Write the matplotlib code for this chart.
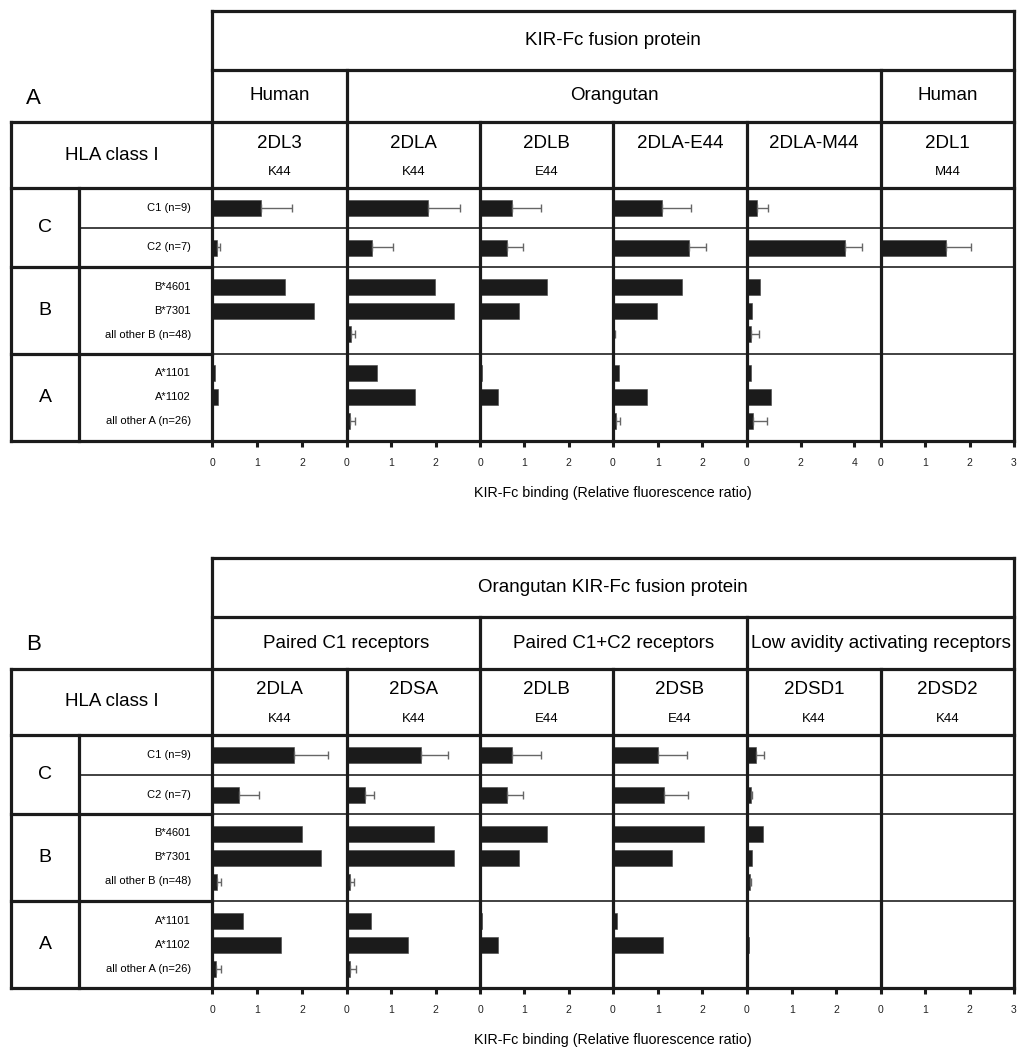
import matplotlib
matplotlib.use("Agg")
import matplotlib.pyplot as plt
import numpy as np

plt.rcParams['font.family'] = ['Liberation Sans', 'DejaVu Sans']

# ---------------- data ----------------
hla_groups = ["C", "B", "A"]
row_labels = ["C1 (n=9)", "C2 (n=7)", "B*4601", "B*7301", "all other B (n=48)",
              "A*1101", "A*1102", "all other A (n=26)"]
xlabel = "KIR-Fc binding (Relative fluorescence ratio)"

# Panel A
a_title = "KIR-Fc fusion protein"
a_species = ["Human", "Orangutan", "Human"]
a_species_span = [1, 4, 1]
a_receptors = ["2DL3", "2DLA", "2DLB", "2DLA-E44", "2DLA-M44", "2DL1"]
a_residues = ["K44", "K44", "E44", "", "", "M44"]
a_xmax = [3, 3, 3, 3, 5, 3]
a_ticks = [[0, 1, 2], [0, 1, 2], [0, 1, 2], [0, 1, 2], [0, 2, 4], [0, 1, 2, 3]]
a_2DL3 = [1.08, 0.11, 1.63, 2.26, 0.02, 0.07, 0.13, 0.01]
a_2DL3_err = [0.70, 0.06, 0, 0, 0, 0, 0, 0]
a_2DLA = [1.83, 0.57, 1.99, 2.41, 0.08, 0.67, 1.53, 0.07]
a_2DLA_err = [0.72, 0.46, 0, 0, 0.11, 0, 0, 0.11]
a_2DLB = [0.72, 0.60, 1.50, 0.88, 0.02, 0.05, 0.41, 0.01]
a_2DLB_err = [0.65, 0.37, 0, 0, 0, 0, 0, 0]
a_2DLA_E44 = [1.10, 1.71, 1.55, 0.98, 0.03, 0.13, 0.77, 0.06]
a_2DLA_E44_err = [0.64, 0.38, 0, 0, 0.02, 0, 0, 0.09]
a_2DLA_M44 = [0.38, 3.66, 0.48, 0.19, 0.16, 0.14, 0.89, 0.22]
a_2DLA_M44_err = [0.41, 0.63, 0, 0, 0.29, 0, 0, 0.51]
a_2DL1 = [0.03, 1.46, 0.01, 0.01, 0.01, 0.0, 0.0, 0.0]
a_2DL1_err = [0, 0.57, 0, 0, 0, 0, 0, 0]

# Panel B
b_title = "Orangutan KIR-Fc fusion protein"
b_groups = ["Paired C1 receptors", "Paired C1+C2 receptors", "Low avidity activating receptors"]
b_groups_span = [2, 2, 2]
b_receptors = ["2DLA", "2DSA", "2DLB", "2DSB", "2DSD1", "2DSD2"]
b_residues = ["K44", "K44", "E44", "E44", "K44", "K44"]
b_xmax = [3, 3, 3, 3, 3, 3]
b_ticks = [[0, 1, 2], [0, 1, 2], [0, 1, 2], [0, 1, 2], [0, 1, 2], [0, 1, 2, 3]]
b_2DLA = [1.83, 0.60, 2.01, 2.42, 0.10, 0.69, 1.54, 0.09]
b_2DLA_err = [0.74, 0.45, 0, 0, 0.09, 0, 0, 0.10]
b_2DSA = [1.66, 0.41, 1.96, 2.41, 0.07, 0.54, 1.38, 0.07]
b_2DSA_err = [0.62, 0.19, 0, 0, 0.08, 0, 0, 0.13]
b_2DLB = [0.72, 0.60, 1.50, 0.88, 0.01, 0.05, 0.41, 0.01]
b_2DLB_err = [0.65, 0.37, 0, 0, 0, 0, 0, 0]
b_2DSB = [1.01, 1.14, 2.04, 1.31, 0.02, 0.08, 1.11, 0.02]
b_2DSB_err = [0.65, 0.54, 0, 0, 0, 0, 0, 0]
b_2DSD1 = [0.21, 0.09, 0.35, 0.11, 0.06, 0.02, 0.05, 0.02]
b_2DSD1_err = [0.18, 0.03, 0, 0, 0.04, 0, 0, 0]
b_2DSD2 = [0.03, 0.03, 0.0, 0.0, 0.0, 0.0, 0.0, 0.0]
b_2DSD2_err = [0, 0, 0, 0, 0, 0, 0, 0]

a_values = [a_2DL3, a_2DLA, a_2DLB, a_2DLA_E44, a_2DLA_M44, a_2DL1]
a_errors = [a_2DL3_err, a_2DLA_err, a_2DLB_err, a_2DLA_E44_err, a_2DLA_M44_err, a_2DL1_err]
b_values = [b_2DLA, b_2DSA, b_2DLB, b_2DSB, b_2DSD1, b_2DSD2]
b_errors = [b_2DLA_err, b_2DSA_err, b_2DLB_err, b_2DSB_err, b_2DSD1_err, b_2DSD2_err]

# ---------------- layout (pixels) ----------------
W, H = 1023, 1050
X_OUT = 11          # outer left border
X_LET = 79          # letter / label divider
COL_EDGES = [212, 347, 480, 613, 747, 881, 1014]
R1, R2, R3, RD = 59, 52, 66, 253   # header rows & data heights
SEC_H = [40, 39, 87, 87]           # C1, C2, B, A
BAR_H = 16
SUB = 24
DARK = '#1b1b1b'
THICK = 2.3
THIN = 1.3
FS_HEAD = 13.5
FS_RES = 9.5
FS_ROW = 8
FS_XLAB = 10.3
FS_TICK = 7.5

fig = plt.figure(figsize=(W / 100, H / 100), dpi=100)
ov = fig.add_axes([0, 0, 1, 1], zorder=10)
ov.set_xlim(0, W)
ov.set_ylim(H, 0)
ov.axis('off')
ov.patch.set_alpha(0)


def hline(y, x0, x1, lw=THICK, color=DARK):
    ov.plot([x0, x1], [y, y], color=color, lw=lw, solid_capstyle='projecting')


def vline(x, y0, y1, lw=THICK, color=DARK):
    ov.plot([x, x], [y0, y1], color=color, lw=lw, solid_capstyle='projecting')


def bar_positions():
    s = np.cumsum([0] + SEC_H)
    cC1 = (s[0] + s[1]) / 2
    cC2 = (s[1] + s[2]) / 2
    cB = (s[2] + s[3]) / 2
    cA = (s[3] + s[4]) / 2
    return np.array([cC1, cC2, cB - SUB, cB, cB + SUB, cA - SUB, cA, cA + SUB]), s


def draw_panel(top, letter, title, groups, spans, receptors, residues,
               xmaxs, ticks, values, errors):
    y_r2 = top + R1
    y_r3 = y_r2 + R2
    y_d = y_r3 + R3
    y_b = y_d + RD
    ypos, sec = bar_positions()
    xl, xr = COL_EDGES[0], COL_EDGES[-1]

    # data axes
    for i in range(len(receptors)):
        x0, x1 = COL_EDGES[i], COL_EDGES[i + 1]
        ax = fig.add_axes([x0 / W, 1 - y_b / H, (x1 - x0) / W, RD / H])
        ax.set_xlim(0, xmaxs[i])
        ax.set_ylim(RD, 0)
        v = np.array(values[i])
        e = np.array(errors[i])
        ax.barh(ypos, v, height=BAR_H, color=DARK, edgecolor='#444444', linewidth=0.4)
        m = e > 0
        if m.any():
            ax.errorbar(v[m], ypos[m], xerr=[np.zeros(m.sum()), e[m]], fmt='none',
                        ecolor='#666666', elinewidth=1.0, capsize=3, capthick=1.0)
        for sp in ax.spines.values():
            sp.set_visible(False)
        ax.set_xticks(ticks[i])
        ax.set_xticklabels([str(t) for t in ticks[i]])
        ax.tick_params(axis='x', direction='out', length=4, width=2.2, color=DARK,
                       pad=8, labelsize=FS_TICK, labelcolor='#222222')
        ax.tick_params(axis='y', left=False, labelleft=False)
        ax.patch.set_alpha(0)

    # header horizontal lines
    hline(top, xl, xr)
    hline(y_r2, xl, xr)
    hline(y_r3, X_OUT, xr)
    hline(y_d, X_OUT, xr)
    hline(y_b, X_OUT, xr)
    # data row dividers
    hline(y_d + sec[1], X_LET, xr, lw=THIN, color='#333333')
    for k in (2, 3):
        hline(y_d + sec[k], X_OUT, xl)
        hline(y_d + sec[k], xl, xr, lw=THIN, color='#333333')
    # verticals
    vline(X_OUT, y_r3, y_b)
    vline(X_LET, y_d, y_b)
    vline(xl, top, y_b)
    vline(xr, top, y_b)
    bounds = np.cumsum(spans)[:-1]
    for i in range(1, len(COL_EDGES) - 1):
        y0 = y_r2 if i in bounds else y_r3
        vline(COL_EDGES[i], y0, y_b)

    # texts
    ov.text(26, y_r2 + R2 / 2 + 2, letter, ha='left', va='center', fontsize=16)
    ov.text((xl + xr) / 2, top + R1 / 2, title, ha='center', va='center', fontsize=FS_HEAD)
    edges = np.concatenate([[0], np.cumsum(spans)])
    for g, s0, s1 in zip(groups, edges[:-1], edges[1:]):
        ov.text((COL_EDGES[s0] + COL_EDGES[s1]) / 2, y_r2 + R2 / 2, g,
                ha='center', va='center', fontsize=FS_HEAD)
    ov.text((X_OUT + xl) / 2, y_r3 + R3 / 2, "HLA class I", ha='center', va='center',
            fontsize=FS_HEAD)
    for i, (r, res) in enumerate(zip(receptors, residues)):
        cx = (COL_EDGES[i] + COL_EDGES[i + 1]) / 2
        ov.text(cx, y_r3 + 21, r, ha='center', va='center', fontsize=FS_HEAD)
        if res:
            ov.text(cx, y_r3 + 50, res, ha='center', va='center', fontsize=FS_RES)
    sec_centers = [(sec[0] + sec[2]) / 2, (sec[2] + sec[3]) / 2, (sec[3] + sec[4]) / 2]
    for gname, c in zip(hla_groups, sec_centers):
        ov.text((X_OUT + X_LET) / 2, y_d + c, gname, ha='center', va='center', fontsize=14)
    for lab, y in zip(row_labels, ypos):
        ov.text(191, y_d + y, lab, ha='right', va='center', fontsize=FS_ROW)
    ov.text((xl + xr) / 2, y_b + 52, xlabel, ha='center', va='center', fontsize=FS_XLAB)


draw_panel(11, "A", a_title, a_species, a_species_span, a_receptors, a_residues,
           a_xmax, a_ticks, a_values, a_errors)
draw_panel(558, "B", b_title, b_groups, b_groups_span, b_receptors, b_residues,
           b_xmax, b_ticks, b_values, b_errors)

fig.savefig("out.png", dpi=100, facecolor='white')
